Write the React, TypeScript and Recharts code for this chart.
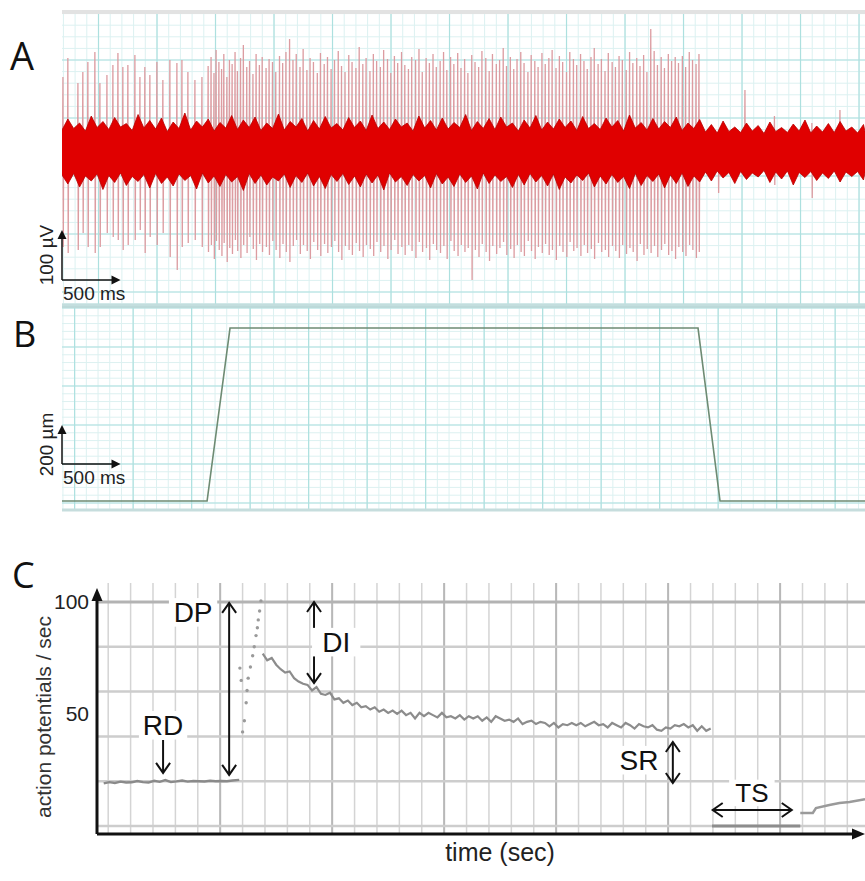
import React from "react";
import {
  Area,
  ComposedChart,
  Line,
  ReferenceDot,
  ReferenceLine,
  Scatter,
  XAxis,
  YAxis,
} from "recharts";

const SANS = '"Liberation Sans", Arial, Helvetica, sans-serif';
const LETTER = '"Open Sans", "Liberation Sans", sans-serif';
const W = 865;

// ---------- A: extracellular recording (ms, µV) ----------
const spikeTimes = [
  9, 51, 137, 179, 222, 282, 325, 385, 436, 479, 521, 564, 624, 667, 709, 752, 812, 863, 923, 983, 1026, 1077, 1137, 1197,
  1250, 1275, 1300, 1318, 1342, 1365, 1384, 1410, 1432, 1455,
  1480, 1500, 1527, 1551, 1580, 1604, 1633, 1660, 1688, 1712,
  1745, 1771, 1800, 1828, 1860, 1887, 1915, 1946, 1975, 2003,
  2035, 2062, 2094, 2121, 2150, 2183, 2210, 2242, 2270, 2301,
  2330, 2362, 2390, 2420, 2452, 2480, 2513, 2541, 2572, 2600,
  2633, 2662, 2690, 2722, 2750, 2783, 2811, 2842, 2870, 2903,
  2931, 2962, 2990, 3023, 3052, 3080, 3113, 3141, 3172, 3200,
  3233, 3262, 3290, 3322, 3350, 3383, 3411, 3442, 3470, 3503,
  3531, 3562, 3590, 3623, 3652, 3680, 3713, 3741, 3772, 3800,
  3833, 3862, 3890, 3922, 3950, 3983, 4011, 4042, 4070, 4103,
  4131, 4162, 4190, 4223, 4252, 4280, 4313, 4341, 4372, 4400,
  4433, 4462, 4490, 4522, 4550, 4583, 4611, 4642, 4670, 4703,
  4731, 4762, 4790, 4823, 4852, 4880, 4913, 4941, 4972, 5000,
  5033, 5062, 5090, 5122, 5150, 5183, 5211, 5242, 5270, 5303,
  5331, 5362, 5390, 5420, 5445,
  5610, 5838, 6090, 6410, 6650,
];
const spikeTops = [
  150, 188, 138, 160, 180, 200, 138, 154, 174, 198, 170, 174, 194, 150, 170, 154, 180, 144, 184, 178, 184, 160, 144, 150,
  172, 190, 158, 204, 180, 166, 196, 150, 184, 176,
  200, 162, 188, 214, 170, 182, 156, 196, 174, 190,
  168, 186, 180, 160, 192, 178, 200, 226, 184, 196,
  170, 206, 164, 188, 180, 158, 198, 176, 190, 166,
  184, 202, 172, 160, 194, 180, 168, 210, 176, 188,
  162, 196, 182, 170, 204, 186, 158, 192, 178, 200,
  174, 166, 190, 184, 206, 160, 188, 178, 196, 170,
  182, 200, 164, 190, 176, 198, 168, 186, 158, 194,
  180, 170, 202, 188, 162, 196, 176, 184, 208, 172,
  190, 166, 186, 200, 178, 160, 194, 182, 170, 198,
  176, 188, 204, 168, 192, 180, 160, 200, 186, 174,
  196, 182, 166, 190, 208, 176, 186, 162, 198, 180,
  170, 192, 184, 164, 200, 178, 188, 172, 194, 160,
  246, 202, 174, 190, 168, 196, 182, 190, 178, 192,
  170, 200, 184, 176, 196,
  40, 124, 72, 58, 84,
];
const spikeBottoms = [
  -190, -202, -196, -162, -190, -202, -190, -162, -170, -176, -196, -186, -176, -156, -202, -170, -186, -162, -210, -236, -190, -182, -176, -190,
  -200, -186, -214, -178, -196, -208, -182, -220, -192, -204,
  -176, -198, -212, -186, -202, -170, -194, -216, -184, -200,
  -190, -206, -178, -196, -212, -184, -200, -220, -188, -176,
  -204, -186, -198, -214, -180, -196, -208, -184, -202, -190,
  -178, -200, -216, -188, -196, -206, -182, -198, -210, -186,
  -194, -208, -180, -200, -188, -214, -196, -176, -204, -190,
  -206, -186, -198, -212, -180, -200, -192, -216, -184, -196,
  -202, -188, -214, -178, -198, -208, -186, -200, -192, -256,
  -196, -210, -184, -200, -218, -188, -204, -192, -180, -206,
  -194, -212, -186, -200, -208, -178, -198, -214, -190, -202,
  -184, -206, -196, -216, -188, -200, -210, -180, -198, -192,
  -208, -186, -202, -194, -214, -182, -200, -196, -210, -188,
  -198, -212, -186, -204, -192, -200, -218, -184, -206, -194,
  -202, -188, -210, -196, -184, -206, -198, -214, -190, -200,
  -208, -186, -196, -212, -200,
  -82, -52, -66, -92, -60,
];

// envelope of the background noise band, sampled every 50 ms
const bandTimes = [
  0, 50, 100, 150, 200, 250, 300, 350, 400, 450, 500, 550, 600, 650, 700, 750, 800, 850, 900, 950,
  1000, 1050, 1100, 1150, 1200, 1250, 1300, 1350, 1400, 1450, 1500, 1550, 1600, 1650, 1700, 1750, 1800, 1850, 1900, 1950,
  2000, 2050, 2100, 2150, 2200, 2250, 2300, 2350, 2400, 2450, 2500, 2550, 2600, 2650, 2700, 2750, 2800, 2850, 2900, 2950,
  3000, 3050, 3100, 3150, 3200, 3250, 3300, 3350, 3400, 3450, 3500, 3550, 3600, 3650, 3700, 3750, 3800, 3850, 3900, 3950,
  4000, 4050, 4100, 4150, 4200, 4250, 4300, 4350, 4400, 4450, 4500, 4550, 4600, 4650, 4700, 4750, 4800, 4850, 4900, 4950,
  5000, 5050, 5100, 5150, 5200, 5250, 5300, 5350, 5400, 5450, 5500, 5550, 5600, 5650, 5700, 5750, 5800, 5850, 5900, 5950,
  6000, 6050, 6100, 6150, 6200, 6250, 6300, 6350, 6400, 6450, 6500, 6550, 6600, 6650, 6700, 6750, 6800, 6850, 6863,
];
const bandHigh = [
  44, 66, 47, 58, 42, 72, 49, 61, 45, 69, 50, 57, 43, 75, 48, 63, 46, 68, 41, 60,
  47, 78, 44, 62, 50, 66, 42, 59, 48, 73, 45, 64, 49, 70, 43, 58, 47, 76, 44, 61,
  50, 67, 42, 63, 46, 71, 48, 57, 44, 69, 49, 62, 43, 74, 47, 60, 45, 66, 50, 58,
  42, 72, 48, 63, 44, 68, 46, 59, 49, 75, 43, 61, 47, 67, 45, 70, 50, 58, 42, 64,
  48, 73, 44, 60, 46, 66, 49, 62, 43, 71, 47, 57, 45, 68, 50, 63, 42, 74, 48, 59,
  44, 67, 46, 61, 49, 70, 43, 58, 47, 65, 40, 55, 38, 62, 41, 50, 39, 58, 42, 53,
  37, 60, 41, 49, 39, 56, 42, 64, 38, 52, 40, 57, 39, 61, 42, 50, 38, 55, 41,
];
const bandLow = [
  -46, -64, -43, -70, -48, -58, -44, -75, -47, -61, -42, -67, -49, -59, -45, -72, -43, -63, -50, -68,
  -44, -57, -47, -74, -42, -62, -48, -69, -45, -60, -49, -77, -43, -63, -46, -66, -50, -58, -44, -71,
  -47, -61, -42, -68, -49, -73, -45, -59, -43, -65, -48, -70, -44, -62, -46, -76, -42, -60, -49, -67,
  -45, -58, -47, -72, -43, -64, -50, -69, -44, -61, -48, -74, -42, -63, -46, -59, -49, -71, -45, -66,
  -43, -60, -47, -68, -44, -75, -50, -62, -46, -57, -42, -70, -48, -64, -45, -61, -49, -73, -43, -67,
  -47, -59, -44, -72, -46, -63, -42, -69, -48, -60, -40, -58, -38, -52, -41, -63, -39, -55, -42, -50,
  -37, -61, -40, -54, -38, -66, -41, -51, -39, -57, -42, -53, -38, -60, -40, -49, -39, -56, -41,
];

// ---------- B: probe displacement (µm) ----------
const stimTimes = [0, 1240, 1436, 5436, 5624, 6863];
const stimPosition = [0, 0, 887, 887, 0, 0];

// ---------- C: firing rate (action potentials / sec) ----------
const restTimes = [-0.2, 0.05, 0.3, 0.55, 0.8, 1.05, 1.3, 1.55, 1.8, 2.05, 2.3, 2.55, 2.8, 3.05, 3.3, 3.55, 3.8, 4.05, 4.3, 4.55, 4.8, 5.05, 5.3, 5.55, 5.85];
const restRate = [19.0, 19.6, 19.2, 19.8, 19.4, 19.5, 20.1, 19.6, 19.4, 20.2, 19.7, 20.5, 19.6, 19.9, 20.3, 19.8, 20.1, 20.0, 19.9, 20.2, 20.0, 20.1, 20.0, 20.3, 20.6];

const onsetTimes = [6.0, 6.08, 6.16, 6.2, 5.88, 5.94, 6.25, 6.35, 6.45, 6.52, 6.6, 6.66, 6.7, 6.76, 6.82];
const onsetRate = [42, 47, 55, 60.5, 70.5, 65, 66, 71, 76, 80, 85, 88.5, 92, 96, 100.5];

const decayTimes = [
  6.9, 7.1, 7.3, 7.5, 7.7, 7.9, 8.1, 8.3, 8.5, 8.7, 8.9, 9.1, 9.3, 9.5, 9.7, 9.9, 10.1, 10.3, 10.5, 10.7,
  10.9, 11.1, 11.3, 11.5, 11.7, 11.9, 12.1, 12.3, 12.5, 12.7, 12.9, 13.1, 13.3, 13.5, 13.7, 13.9, 14.1, 14.3, 14.5, 14.7,
  14.9, 15.1, 15.3, 15.5, 15.7, 15.9, 16.1, 16.3, 16.5, 16.7, 16.9, 17.1, 17.3, 17.5, 17.7, 17.9, 18.1, 18.3, 18.5, 18.7,
  18.9, 19.1, 19.3, 19.5, 19.7, 19.9, 20.1, 20.3, 20.5, 20.7, 20.9, 21.1, 21.3, 21.5, 21.7, 21.9, 22.1, 22.3, 22.5, 22.7,
  22.9, 23.1, 23.3, 23.5, 23.7, 23.9, 24.1, 24.3, 24.5, 24.7, 24.9, 25.1, 25.3, 25.5, 25.7, 25.9, 26.1, 26.3, 26.5, 26.7,
  26.9,
];
const decayRate = [
  77, 74, 75, 72, 70, 68.5, 69, 66, 64.5, 63.5, 63, 60.5, 62, 59, 58.5, 59.5, 56.5, 57, 55, 56,
  54, 55, 53, 53.5, 52, 53, 51, 52, 50.5, 51.5, 50, 51.5, 49.5, 50.5, 48, 50.5, 49, 50.5, 49.5, 48.5,
  50.5, 48.5, 49, 48, 49.5, 47.5, 49, 48, 49, 47, 48.5, 46.5, 49, 48, 47, 47.5, 46.5, 48, 45.5, 46.5,
  47, 45.5, 46.5, 46, 44.5, 46, 44, 45.5, 45, 46, 45, 46, 44.5, 45.5, 46.5, 45, 45.5, 44, 46, 45,
  44, 46, 45, 43.5, 45.5, 44.5, 44, 45, 43, 42.5, 44, 43.5, 45, 44.5, 45.5, 44, 45, 42.5, 44.5, 42.5,
  43.5,
];

const silenceTimes = [26.96, 30.9];
const silenceRate = [0, 0];
const recoveryTimes = [30.9, 31.46, 31.6, 32.2, 32.65, 33.1, 33.79];
const recoveryRate = [5.8, 5.8, 8, 9.4, 10.3, 10.7, 12];

const rateTicks = [50, 100];
const rateGrid = [0, 20, 40, 60, 80, 100];
const timeGridMajor = [5, 10, 15, 20, 25, 30];

// ---------- helpers ----------
const steps = (from: number, to: number, step: number) => {
  const out: number[] = [];
  for (let v = from; v <= to + 1e-6; v += step) out.push(Math.round(v * 100) / 100);
  return out;
};

const aX: [number, number] = [0, 6863];
const aY: [number, number] = [-306, 280];
const bY: [number, number] = [-46, 995];
const cX: [number, number] = [-0.5, 33.79];
const cY: [number, number] = [-3.57, 108.48];

const spikeData = spikeTimes.flatMap((t, i) => [
  { t: t - 4, v: 0 },
  { t: t - 1, v: spikeTops[i] },
  { t: t + 2, v: spikeBottoms[i] },
  { t: t + 5, v: 0 },
]);
const bandData = bandTimes.map((t, i) => ({ t, band: [bandLow[i], bandHigh[i]] }));
const stimData = stimTimes.map((t, i) => ({ t, v: stimPosition[i] }));
const restData = restTimes.map((t, i) => ({ t, v: restRate[i] }));
const onsetData = onsetTimes.map((t, i) => ({ t, v: onsetRate[i] }));
const decayData = decayTimes.map((t, i) => ({ t, v: decayRate[i] }));
const silenceData = silenceTimes.map((t, i) => ({ t, v: silenceRate[i] }));
const recoveryData = recoveryTimes.map((t, i) => ({ t, v: recoveryRate[i] }));

function headPoints(tx: number, ty: number, fx: number, fy: number, len: number, half: number) {
  const dx = tx - fx;
  const dy = ty - fy;
  const d = Math.hypot(dx, dy) || 1;
  const ux = dx / d;
  const uy = dy / d;
  const bx = tx - ux * len;
  const by = ty - uy * len;
  return `${bx - uy * half},${by + ux * half} ${tx},${ty} ${bx + uy * half},${by - ux * half}`;
}

// open chevron arrows used for the annotations in C
const openArrow = (both: boolean) => (p: any) => (
  <g stroke="#111" strokeWidth={2} fill="none">
    <line x1={p.x1} y1={p.y1} x2={p.x2} y2={p.y2} />
    <polyline points={headPoints(p.x2, p.y2, p.x1, p.y1, 10, 7)} />
    {both && <polyline points={headPoints(p.x1, p.y1, p.x2, p.y2, 10, 7)} />}
  </g>
);

// filled arrows for the axes and scale bars
const solidArrow = (width: number, len: number, half: number, label?: string, vertical?: boolean) => (p: any) => {
  const bx = p.x2 - (p.x2 - p.x1 === 0 ? 0 : Math.sign(p.x2 - p.x1) * len * 0.8);
  const by = p.y2 - (p.y2 - p.y1 === 0 ? 0 : Math.sign(p.y2 - p.y1) * len * 0.8);
  const midY = (p.y1 + p.y2) / 2;
  return (
    <g>
      <line x1={p.x1} y1={p.y1} x2={bx} y2={by} stroke="#111" strokeWidth={width} />
      <polygon points={headPoints(p.x2, p.y2, p.x1, p.y1, len, half)} fill="#111" />
      {label && vertical && (
        <text
          x={p.x1 - 9}
          y={midY}
          transform={`rotate(-90 ${p.x1 - 9} ${midY})`}
          textAnchor="middle"
          fontSize={19}
          fontFamily={SANS}
          fill="#222"
        >
          {label}
        </text>
      )}
      {label && !vertical && (
        <text x={p.x1 + 1} y={p.y1 + 20} fontSize={19} fontFamily={SANS} fill="#222">
          {label}
        </text>
      )}
    </g>
  );
};

const tag = (text: string, size: number) => (p: any) => {
  const w = text.length * size * 0.72 + 8;
  return (
    <g>
      <rect x={p.cx - w / 2} y={p.cy - size * 0.86} width={w} height={size * 1.02} fill="#fff" />
      <text x={p.cx} y={p.cy} textAnchor="middle" fontSize={size} fontFamily={SANS} fill="#111">
        {text}
      </text>
    </g>
  );
};

const tickText = (text: string) => (p: any) => (
  <text x={p.cx - 8} y={p.cy + 7} textAnchor="end" fontSize={21} fontFamily={SANS} fill="#222">
    {text}
  </text>
);

type LayerProps = {
  top: number;
  height: number;
  margin: { top: number; right: number; bottom: number; left: number };
  xDomain: [number, number];
  yDomain: [number, number];
  children?: React.ReactNode;
};

function Layer({ top, height, margin, xDomain, yDomain, children }: LayerProps) {
  return (
    <div style={{ position: "absolute", left: 0, top }}>
      <ComposedChart width={W} height={height} margin={margin}>
        <XAxis type="number" dataKey="t" domain={xDomain} hide allowDataOverflow />
        <YAxis type="number" domain={yDomain} hide allowDataOverflow />
        {children}
      </ComposedChart>
    </div>
  );
}

const aMargin = { top: 12, right: 0, bottom: 5, left: 62 };
const bMargin = { top: 7, right: 0, bottom: 5, left: 62 };
const cMargin = { top: 28, right: 0, bottom: 47, left: 97 };

const MINOR = "#dcf1f1";
const MAJOR = "#ade0df";

export default function App() {
  return (
    <div style={{ position: "absolute", left: 0, top: 0, width: W, height: 881, background: "#fff" }}>
      {/* A: grid */}
      <Layer top={0} height={310} margin={aMargin} xDomain={aX} yDomain={aY}>
        {steps(12, aX[1], 100).map((t) => (
          <ReferenceLine key={`am${t}`} x={t} stroke={MINOR} strokeWidth={1} />
        ))}
        {steps(-303.2, aY[1], 23.2).map((v) => (
          <ReferenceLine key={`ah${v}`} y={v} stroke={MINOR} strokeWidth={1} />
        ))}
        {steps(312, aX[1], 500).map((t) => (
          <ReferenceLine key={`aM${t}`} x={t} stroke={MAJOR} strokeWidth={1.2} />
        ))}
        {[184, 68, -48, -164, -280].map((v) => (
          <ReferenceLine key={`aH${v}`} y={v} stroke={MAJOR} strokeWidth={1.2} />
        ))}
        <ReferenceLine y={aY[1]} stroke="#e2e2e2" strokeWidth={4} />
        <ReferenceLine y={aY[0]} stroke="#c3dede" strokeWidth={3} />
      </Layer>
      {/* A: spikes */}
      <Layer top={0} height={310} margin={aMargin} xDomain={aX} yDomain={aY}>
        <Line data={spikeData} dataKey="v" type="linear" stroke="#dc9ca1" strokeWidth={1.3} dot={false} isAnimationActive={false} />
      </Layer>
      {/* A: noise band and scale bar */}
      <Layer top={0} height={310} margin={aMargin} xDomain={aX} yDomain={aY}>
        <Area
          data={bandData}
          dataKey="band"
          type="linear"
          fill="#e00000"
          fillOpacity={1}
          stroke="#b80000"
          strokeWidth={0.8}
          isAnimationActive={false}
        />
        <ReferenceLine segment={[{ x: 0, y: -256 }, { x: 0, y: -156 }]} shape={solidArrow(1.5, 9, 4.5, "100 µV", true)} />
        <ReferenceLine segment={[{ x: 0, y: -256 }, { x: 500, y: -256 }]} shape={solidArrow(1.5, 9, 4.5, "500 ms", false)} />
      </Layer>

      {/* B: grid */}
      <Layer top={300} height={215} margin={bMargin} xDomain={aX} yDomain={bY}>
        {steps(8, aX[1], 100).map((t) => (
          <ReferenceLine key={`bm${t}`} x={t} stroke={MINOR} strokeWidth={1} />
        ))}
        {steps(-10, bY[1], 40).map((v) => (
          <ReferenceLine key={`bh${v}`} y={v} stroke={MINOR} strokeWidth={1} />
        ))}
        {steps(108, aX[1], 500).map((t) => (
          <ReferenceLine key={`bM${t}`} x={t} stroke={MAJOR} strokeWidth={1.2} />
        ))}
        {steps(-10, bY[1], 200).map((v) => (
          <ReferenceLine key={`bH${v}`} y={v} stroke={MAJOR} strokeWidth={1.2} />
        ))}
        <ReferenceLine y={bY[1]} stroke="#bcd9d9" strokeWidth={2} />
        <ReferenceLine y={bY[0]} stroke="#c6dddd" strokeWidth={3} />
      </Layer>
      {/* B: displacement */}
      <Layer top={300} height={215} margin={bMargin} xDomain={aX} yDomain={bY}>
        <Line data={stimData} dataKey="v" type="linear" stroke="#6e8b73" strokeWidth={1.6} dot={false} isAnimationActive={false} />
        <ReferenceLine segment={[{ x: 0, y: 190 }, { x: 0, y: 390 }]} shape={solidArrow(1.5, 9, 4.5, "200 µm", true)} />
        <ReferenceLine segment={[{ x: 0, y: 190 }, { x: 500, y: 190 }]} shape={solidArrow(1.5, 9, 4.5, "500 ms", false)} />
      </Layer>

      {/* C: grid */}
      <Layer top={555} height={326} margin={cMargin} xDomain={cX} yDomain={cY}>
        {steps(0, 33, 1).map((t) => (
          <ReferenceLine key={`cv${t}`} x={t} stroke="#d4d4d4" strokeWidth={1.5} />
        ))}
        {timeGridMajor.map((t) => (
          <ReferenceLine key={`cV${t}`} x={t} stroke="#b8b8b8" strokeWidth={2} />
        ))}
        {rateGrid.map((v) => (
          <ReferenceLine key={`ch${v}`} y={v} stroke={v === 100 ? "#b3b3b3" : "#cdcdcd"} strokeWidth={v === 100 ? 3 : 2.5} />
        ))}
      </Layer>
      {/* C: firing rate, axes and annotations */}
      <Layer top={555} height={326} margin={cMargin} xDomain={cX} yDomain={cY}>
        <Line data={restData} dataKey="v" type="linear" stroke="#8a8a8a" strokeWidth={2.4} dot={false} isAnimationActive={false} />
        <Line data={decayData} dataKey="v" type="linear" stroke="#8c8c8c" strokeWidth={2.2} dot={false} isAnimationActive={false} />
        <Line data={silenceData} dataKey="v" type="linear" stroke="#8d8d8d" strokeWidth={3} dot={false} isAnimationActive={false} />
        <Line data={recoveryData} dataKey="v" type="linear" stroke="#9a9a9a" strokeWidth={2.5} dot={false} isAnimationActive={false} />
        <Scatter
          data={onsetData}
          dataKey="v"
          isAnimationActive={false}
          shape={(p: any) => <circle cx={p.cx} cy={p.cy} r={1.7} fill="#9a9a9a" />}
        />

        <ReferenceLine segment={[{ x: cX[0], y: cY[0] }, { x: cX[0], y: 106.3 }]} shape={solidArrow(3, 13, 5.5)} />
        <ReferenceLine segment={[{ x: cX[0], y: cY[0] }, { x: cX[1], y: cY[0] }]} shape={solidArrow(3, 13, 5.5)} />
        {rateTicks.map((v) => (
          <ReferenceDot key={`tk${v}`} x={cX[0]} y={v} r={0} shape={tickText(String(v))} />
        ))}

        <ReferenceLine segment={[{ x: 2.45, y: 38.4 }, { x: 2.45, y: 23.7 }]} shape={openArrow(false)} />
        <ReferenceLine segment={[{ x: 5.4, y: 22.8 }, { x: 5.4, y: 99.6 }]} shape={openArrow(true)} />
        <ReferenceLine segment={[{ x: 9.19, y: 63.8 }, { x: 9.19, y: 100 }]} shape={openArrow(true)} />
        <ReferenceLine segment={[{ x: 25.21, y: 19.2 }, { x: 25.21, y: 37.5 }]} shape={openArrow(true)} />
        <ReferenceLine segment={[{ x: 26.99, y: 7.14 }, { x: 30.52, y: 7.14 }]} shape={openArrow(true)} />

        <ReferenceDot x={2.45} y={40.6} r={0} shape={tag("RD", 28)} />
        <ReferenceDot x={3.79} y={91} r={0} shape={tag("DP", 28)} />
        <ReferenceDot x={10.18} y={77.7} r={0} shape={tag("DI", 28)} />
        <ReferenceDot x={23.7} y={25} r={0} shape={tag("SR", 28)} />
        <ReferenceDot x={28.74} y={10.7} r={0} shape={tag("TS", 26)} />
      </Layer>

      {/* panel letters and axis titles */}
      <svg width={W} height={881} style={{ position: "absolute", left: 0, top: 0, pointerEvents: "none" }}>
        <text x={10} y={70} fontSize={38} fontFamily={LETTER} fill="#111">A</text>
        <text x={13} y={347} fontSize={36} fontFamily={LETTER} fill="#111">B</text>
        <text x={12} y={588} fontSize={36} fontFamily={LETTER} fill="#111">C</text>
        <text x={51} y={717} transform="rotate(-90 51 717)" textAnchor="middle" fontSize={21} fontFamily={SANS} fill="#333">
          action potentials / sec
        </text>
        <text x={500} y={861} textAnchor="middle" fontSize={25} fontFamily={SANS} fill="#222">
          time (sec)
        </text>
      </svg>
    </div>
  );
}
